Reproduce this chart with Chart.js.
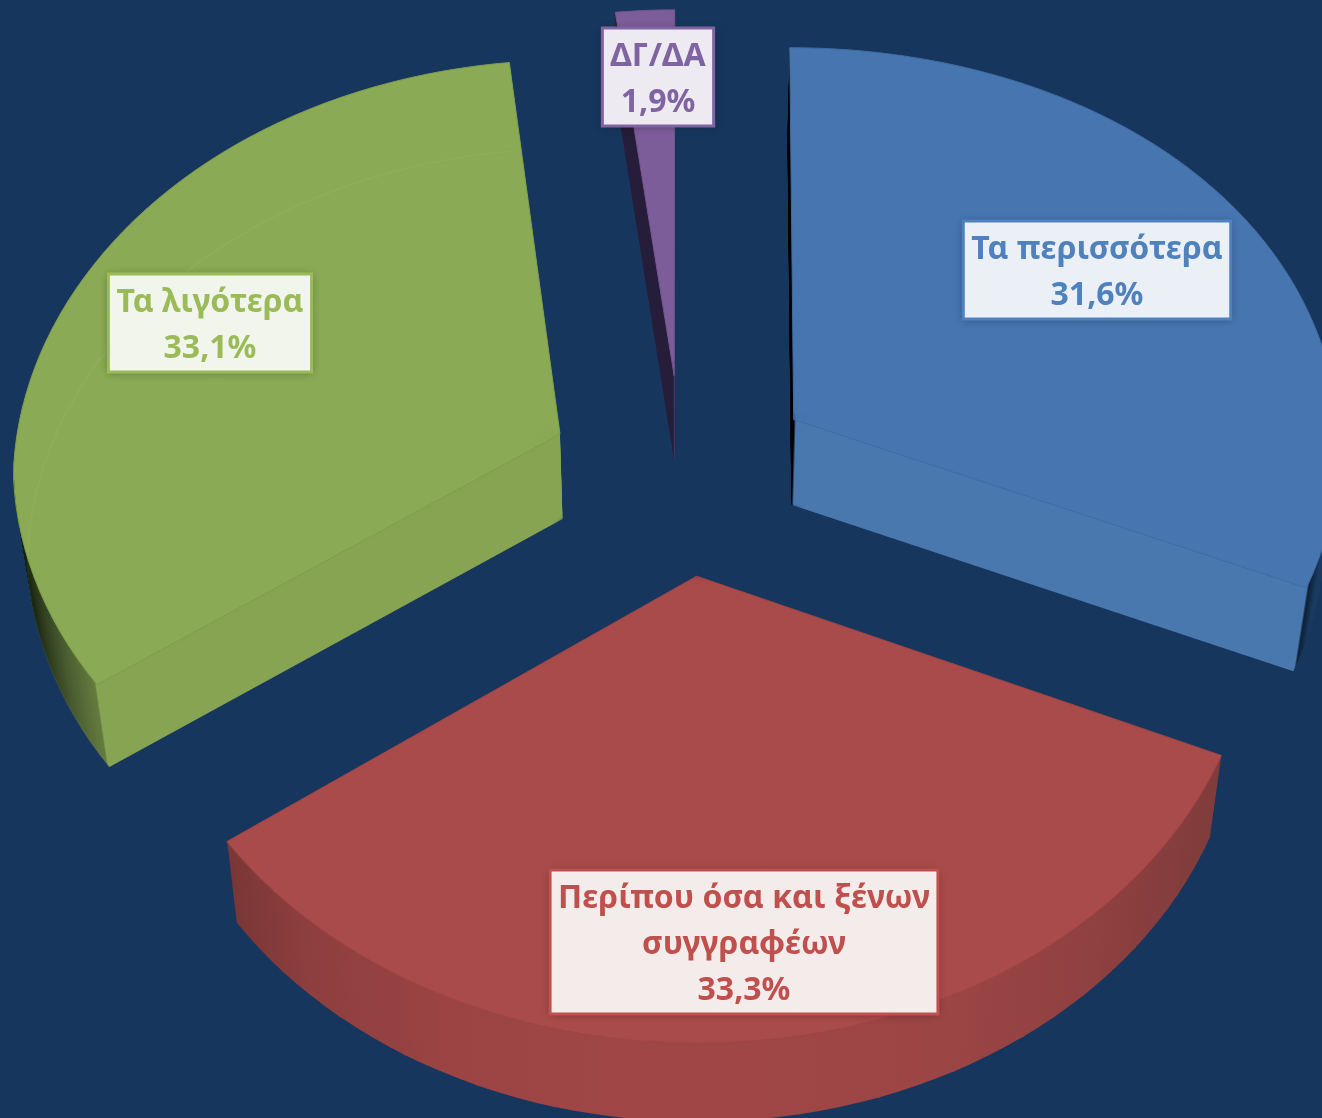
<!DOCTYPE html>
<html lang="el">
<head>
<meta charset="utf-8">
<title>Πίτα</title>
<script src="https://cdn.jsdelivr.net/npm/chart.js@4"></script>
<style>
  html, body { margin: 0; padding: 0; background: #17365D; overflow: hidden; }
  canvas { display: block; }
</style>
</head>
<body>
<canvas id="cvsPita" width="1322" height="1118"></canvas>
<script>
const categorias = ['Τα περισσότερα', 'Περίπου όσα και ξένων συγγραφέων', 'Τα λιγότερα', 'ΔΓ/ΔΑ'];
const valores = [31.6, 33.3, 33.1, 1.9];
const colorCara = ['#4675B0', '#AA4B4B', '#8AAA55', '#7D5C9A'];
const colorBorde = ['#3F6CA3', '#A04444', '#7F9E4C', '#75558F'];
const colorTexto = ['#4F81BD', '#C0504D', '#9BBB59', '#8064A2'];
const colorCaja = ['#EBF0F6', '#F4EBEB', '#F2F5EC', '#EDEAF1'];

// color del costado segun la x de pantalla
const costados = [
  [[780, '#000000'], [794, '#000000'], [796, '#4878AE'], [1307, '#4878AE'], [1310, '#0D2038'], [1322, '#1B3A60']],
  [[227, '#7A3636'], [300, '#8D3E3E'], [450, '#9C4444'], [700, '#A04646'], [950, '#9C4545'], [1100, '#8F4040'], [1226, '#7F3B3B']],
  [[15, '#0F1A08'], [36, '#2C3A1C'], [60, '#47592F'], [85, '#5D733A'], [94, '#647B40'], [96, '#86A452'], [562, '#86A452']],
  [[600, '#261D3A'], [673, '#261D3A'], [676, '#6B4C8C']]
];
// centro de cada recuadro de etiqueta
const cajas = [[1097, 270], [744, 942], [210, 323], [658, 77]];
const arcoTenue = [0, 0, 0.05, 0];

// ! Proyeccion de la pita en perspectiva
const centroX = 682, centroY = 474, radioY = 411;
const perspY = 0.082, explosionX = 0.245, explosionY = 0.245;
const alto = 85, encoge = 0.021;
const gradosPorTramo = 8 * Math.PI / 180;

function proyectar(u, v, t) {
  const radioX = 525 + 20 * (v + 1.1) + 10.3 * (v + 1.1) * (v + 0.1);
  const ajuste = (u < 0 && v < 0) ? 1 + 0.04 * v : 1;
  let x = centroX + radioX * u * ajuste;
  let y = centroY + radioY * v / (1 - perspY * v);
  x += (centroX - x) * encoge * t;
  y += t * (alto - (y - 418) * 0.01);
  return [x, y];
}

function vertice(a0, a1) {
  const mid = (a0 + a1) / 2;
  return [Math.cos(mid) * explosionX, Math.sin(mid) * explosionY];
}

// matriz afin que lleva un tramo del sector a su posicion en pantalla
function matrizTramo(arc, ox, oy, a0, a1, t) {
  const A = proyectar(ox, oy, t);
  const S = proyectar(ox + Math.cos(a0), oy + Math.sin(a0), t);
  const E = proyectar(ox + Math.cos(a1), oy + Math.sin(a1), t);
  const r = arc.outerRadius;
  const sx = Math.cos(a0) * r, sy = Math.sin(a0) * r, ex = Math.cos(a1) * r, ey = Math.sin(a1) * r;
  const det = sx * ey - ex * sy;
  const px = S[0] - A[0], py = S[1] - A[1], qx = E[0] - A[0], qy = E[1] - A[1];
  const a = (px * ey - qx * sy) / det, c = (qx * sx - px * ex) / det;
  const b = (py * ey - qy * sy) / det, d = (qy * sx - py * ex) / det;
  return [a, b, c, d, A[0] - a * arc.x - c * arc.y, A[1] - b * arc.x - d * arc.y];
}

function gradienteCostado(ctx, arc, m, paradas, t) {
  const xs = paradas.map(p => p[0] + (centroX - p[0]) * encoge * t);
  const x0 = xs[0], x1 = xs[xs.length - 1];
  const n = m[0] * m[0] + m[2] * m[2];
  const base = m[0] * arc.x + m[2] * arc.y + m[4];
  const g = ctx.createLinearGradient(
    arc.x + m[0] * (x0 - base) / n, arc.y + m[2] * (x0 - base) / n,
    arc.x + m[0] * (x1 - base) / n, arc.y + m[2] * (x1 - base) / n
  );
  paradas.forEach((p, i) => g.addColorStop((xs[i] - x0) / (x1 - x0), p[1]));
  return g;
}

// dibuja el sector por tramos, cada uno con su matriz
function dibujarSector(ctx, arc, t, relleno) {
  const inicio = arc.startAngle, fin = arc.endAngle, giro = arc.circumference, guardadas = arc.options;
  const [ox, oy] = vertice(inicio, fin);
  const tramos = Math.max(1, Math.ceil((fin - inicio) / gradosPorTramo));
  const paso = (fin - inicio) / tramos;
  for (let k = 0; k < tramos; k++) {
    const a0 = inicio + k * paso, a1 = a0 + paso;
    const m = matrizTramo(arc, ox, oy, a0, a1, t);
    const extra = k < tramos - 1 ? 0.006 : 0;
    arc.startAngle = a0;
    arc.endAngle = a1 + extra;
    arc.circumference = paso + extra;
    arc.options = {
      backgroundColor: relleno(m), borderColor: 'transparent', borderWidth: 0, borderAlign: 'center',
      borderJoinStyle: 'round', borderDash: [], borderDashOffset: 0, borderRadius: 0,
      offset: 0, spacing: 0, circular: true
    };
    ctx.save();
    ctx.transform(m[0], m[1], m[2], m[3], m[4], m[5]);
    arc.draw(ctx);
    ctx.restore();
  }
  arc.startAngle = inicio;
  arc.endAngle = fin;
  arc.circumference = giro;
  arc.options = guardadas;
}

function trazarBorde(ctx, arc, t, cerrado) {
  const [ox, oy] = vertice(arc.startAngle, arc.endAngle);
  ctx.beginPath();
  if (cerrado) ctx.moveTo(...proyectar(ox, oy, t));
  for (let k = 0; k <= 60; k++) {
    const a = arc.startAngle + (arc.endAngle - arc.startAngle) * k / 60;
    const p = proyectar(ox + Math.cos(a), oy + Math.sin(a), t);
    if (k === 0 && !cerrado) ctx.moveTo(p[0], p[1]);
    else ctx.lineTo(p[0], p[1]);
  }
  if (cerrado) ctx.closePath();
  ctx.stroke();
}

function partirTexto(ctx, texto, maximo) {
  const lineas = [];
  let actual = '';
  texto.split(' ').forEach(palabra => {
    const prueba = actual ? actual + ' ' + palabra : palabra;
    if (ctx.measureText(prueba).width > maximo && actual) {
      lineas.push(actual);
      actual = palabra;
    } else {
      actual = prueba;
    }
  });
  lineas.push(actual);
  return lineas;
}

const pita3d = {
  id: 'pita3d',
  beforeDatasetsDraw(chart) {
    const ctx = chart.ctx;
    const arcos = chart.getDatasetMeta(0).data;
    [3, 0, 2, 1].forEach(i => {
      const arc = arcos[i];
      for (let paso = alto; paso > 0; paso--) {
        const t = paso / alto;
        dibujarSector(ctx, arc, t, m => gradienteCostado(ctx, arc, m, costados[i], t));
      }
      dibujarSector(ctx, arc, 0, () => colorCara[i]);
      ctx.save();
      ctx.lineJoin = 'round';
      ctx.lineWidth = 1;
      ctx.strokeStyle = colorBorde[i];
      trazarBorde(ctx, arc, 0, true);
      if (arcoTenue[i] > 0) {
        ctx.lineWidth = 1.5;
        ctx.strokeStyle = `rgba(255,255,255,${arcoTenue[i]})`;
        trazarBorde(ctx, arc, 1, false);
      }
      ctx.restore();
    });
    return false;
  },
  afterDraw(chart) {
    const ctx = chart.ctx;
    ctx.save();
    ctx.font = 'bold 32px "Noto Sans", Lato, sans-serif';
    ctx.textAlign = 'center';
    ctx.textBaseline = 'middle';
    categorias.forEach((nombre, i) => {
      const lineas = partirTexto(ctx, nombre, 385);
      lineas.push(valores[i].toFixed(1).replace('.', ',') + '%');
      const ancho = Math.max(...lineas.map(l => ctx.measureText(l).width)) + 16;
      const altura = lineas.length * 46 + 6;
      const x = cajas[i][0] - ancho / 2, y = cajas[i][1] - altura / 2;
      ctx.save();
      ctx.shadowColor = 'rgba(0,0,0,0.3)';
      ctx.shadowBlur = 8;
      ctx.shadowOffsetY = 1;
      ctx.fillStyle = colorCaja[i];
      ctx.fillRect(x, y, ancho, altura);
      ctx.restore();
      ctx.strokeStyle = colorTexto[i];
      ctx.lineWidth = 3;
      ctx.strokeRect(x, y, ancho, altura);
      ctx.fillStyle = colorTexto[i];
      lineas.forEach((l, j) => ctx.fillText(l, cajas[i][0], y + 29 + j * 46));
    });
    ctx.restore();
  }
};

const cvsPita = document.getElementById('cvsPita');
new Chart(cvsPita, {
  type: 'pie',
  data: {
    labels: categorias,
    datasets: [{
      data: valores,
      backgroundColor: colorCara,
      borderColor: colorBorde,
      borderWidth: 1
    }]
  },
  options: {
    responsive: false,
    animation: false,
    plugins: {
      legend: { display: false },
      tooltip: { enabled: false }
    }
  },
  plugins: [pita3d]
});
</script>
</body>
</html>
